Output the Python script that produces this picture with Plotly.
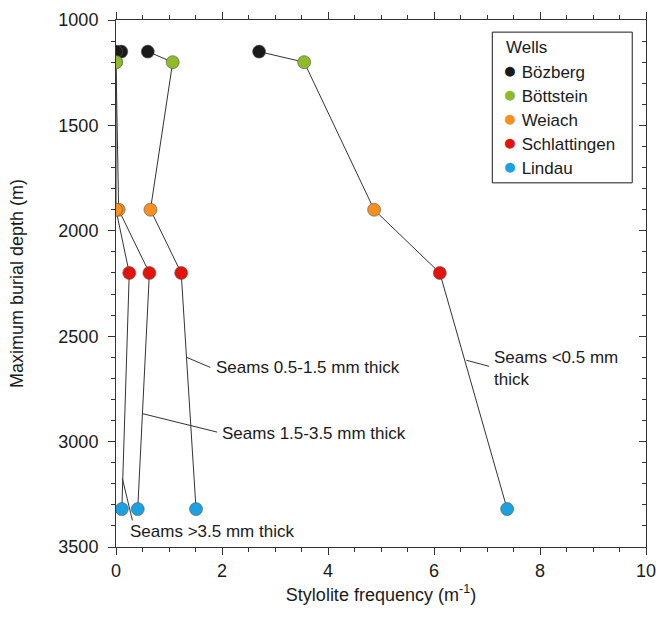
import plotly.graph_objects as go

wells = ["Bözberg", "Böttstein", "Weiach", "Schlattingen", "Lindau"]
depths = [1150, 1200, 1900, 2200, 3320]
colors = ["#1a1a1a", "#8fba2a", "#f7901e", "#e3120b", "#1ba1e2"]

freq_lt05 = [2.7, 3.55, 4.87, 6.11, 7.38]
freq_05_15 = [0.6, 1.07, 0.65, 1.23, 1.51]
freq_15_35 = [0.1, 0.0, 0.05, 0.63, 0.41]
freq_gt35 = [0.0, 0.0, 0.0, 0.25, 0.11]
series = [freq_lt05, freq_05_15, freq_15_35, freq_gt35]

labels = ["Seams <0.5 mm<br>thick", "Seams 0.5-1.5 mm thick",
          "Seams 1.5-3.5 mm thick", "Seams >3.5 mm thick"]
# leader line: (point on curve) -> (end near text), text anchor
leader_from = [(6.61, 2614), (1.32, 2599), (0.51, 2868), (0.12, 3175)]
leader_to = [(7.04, 2643), (1.78, 2648), (1.91, 2955), (0.31, 3374)]
text_pos = [(7.10, 2652), (1.84, 2648), (1.97, 2961), (0.23, 3425)]

FONT = "Liberation Sans, Arial, sans-serif"
INK = "#1a1a1a"

fig = go.Figure()
for s in series:
    fig.add_trace(go.Scatter(x=s, y=depths, mode="lines",
                             line=dict(color="#333333", width=1),
                             showlegend=False, hoverinfo="skip"))
for i, w in enumerate(wells):
    fig.add_trace(go.Scatter(
        x=[s[i] for s in series], y=[depths[i]] * len(series),
        mode="markers", name=w, showlegend=False,
        marker=dict(color=colors[i], size=13,
                    line=dict(color="#555555", width=0.6))))

# invisible trace for right axis
fig.add_trace(go.Scatter(x=[0], y=[1000], yaxis="y2", mode="markers",
                         marker=dict(opacity=0), showlegend=False,
                         hoverinfo="skip"))

for (x0, y0), (x1, y1), (tx, ty), lab in zip(leader_from, leader_to, text_pos, labels):
    fig.add_shape(type="line", x0=x0, y0=y0, x1=x1, y1=y1, xref="x", yref="y",
                  line=dict(color="#333333", width=1))
    fig.add_annotation(x=tx, y=ty, xref="x", yref="y", text=lab,
                       showarrow=False, xanchor="left", yanchor="middle",
                       align="left", font=dict(size=17, color=INK, family=FONT))

# custom legend (box, title, entries)
plot_h = 618 - 20 - 71
fig.add_shape(type="rect", xref="paper", yref="paper",
              x0=0.710, x1=0.974, y0=0.691, y1=0.977,
              line=dict(color=INK, width=1), fillcolor="white", layer="above")
fig.add_annotation(xref="paper", yref="paper", x=0.733, y=0.947,
                   text="Wells", showarrow=False, xanchor="left",
                   yanchor="middle", font=dict(size=17, color=INK, family=FONT))
for i, w in enumerate(wells):
    fig.add_annotation(
        xref="paper", yref="paper", x=0.727, y=0.905 - i * 24.0 / plot_h,
        text=(f'<span style="color:{colors[i]};font-size:23px">●</span>'
              f' {w}'),
        showarrow=False, xanchor="left", yanchor="middle",
        font=dict(size=17, color=INK, family=FONT))

axis_common = dict(showline=True, linecolor="#333333", linewidth=1,
                   showgrid=False, zeroline=False, ticks="outside",
                   tickcolor="#333333", ticklen=7, tickwidth=1,
                   ticklabeloverflow="allow", automargin=False,
                   tickfont=dict(size=18, color=INK, family=FONT))

fig.update_layout(
    width=656, height=618,
    margin=dict(l=116, r=10, t=20, b=71),
    plot_bgcolor="white", paper_bgcolor="white",
    font=dict(family=FONT, color=INK),
    showlegend=False,
    xaxis=dict(range=[0, 10], dtick=2, mirror="ticks",
               minor=dict(dtick=0.5, ticks="outside", ticklen=4,
                          tickcolor="#333333"),
               title=dict(text="Stylolite frequency (m<sup>-1</sup>)",
                          font=dict(size=18), standoff=8),
               **axis_common),
    yaxis=dict(range=[3500, 1000], dtick=500, mirror=True,
               ticklabelstandoff=6,
               minor=dict(dtick=100, ticks="outside", ticklen=4,
                          tickcolor="#333333"),
               title=dict(text="Maximum burial depth (m)",
                          font=dict(size=18), standoff=30),
               **axis_common),
    yaxis2=dict(range=[3500, 1000], overlaying="y", side="right",
                showline=False, showgrid=False, zeroline=False,
                showticklabels=False, ticks="inside", dtick=500,
                ticklen=7, tickcolor="#333333", automargin=False,
                minor=dict(dtick=100, ticks="inside", ticklen=4,
                           tickcolor="#333333")),
)

fig.write_html("out.html")
